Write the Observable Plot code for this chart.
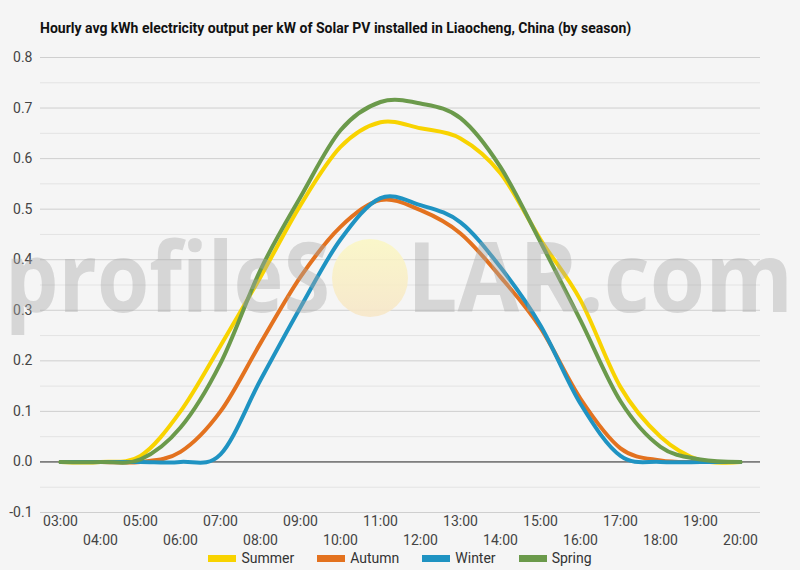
<!DOCTYPE html>
<html><head><meta charset="utf-8">
<script src="https://cdn.jsdelivr.net/npm/d3@7"></script>
<script src="https://cdn.jsdelivr.net/npm/@observablehq/plot@0.6"></script>
<style>
body{margin:0;background:#f5f5f5;font-family:Roboto,sans-serif;width:800px;height:570px;overflow:hidden}
#title{padding:20px 0 0 40px;height:16px;line-height:16px;font-size:14px;font-weight:bold;color:#111}
#chart svg{display:block}
#legend{display:flex;justify-content:center;gap:23px;height:14px;line-height:14px;align-items:center;font-size:14px;color:#333}
.item{display:flex;align-items:center;gap:5px}
.sw{width:28px;height:7px}
</style></head><body>
<div id="title">Hourly avg kWh electricity output per kW of Solar PV installed in Liaocheng, China (by season)</div>
<div id="chart"></div>
<div id="legend"></div>
<script>
const hours = [3,4,5,6,7,8,9,10,11,12,13,14,15,16,17,18,19,20];
const hourLabels = hours.map(h => String(h).padStart(2,"0") + ":00");
const seasons = ["Summer","Autumn","Winter","Spring"];
const colors = ["#f8d300","#e3721f","#1f93c2","#6b9a4b"];
const summer = [0,0,0.012,0.1,0.23,0.366,0.508,0.623,0.672,0.66,0.64,0.571,0.44,0.32,0.148,0.05,0.003,0];
const autumn = [0,0,0,0.02,0.10,0.235,0.366,0.465,0.518,0.498,0.452,0.366,0.265,0.125,0.027,0.003,0,0];
const winter = [0,0,0,0,0.015,0.162,0.306,0.44,0.522,0.508,0.474,0.385,0.27,0.115,0.012,0,0,0];
const spring = [0,0,0.005,0.068,0.195,0.38,0.524,0.656,0.712,0.709,0.68,0.583,0.435,0.28,0.12,0.03,0.005,0];
const yTicks = [-0.1,0,0.1,0.2,0.3,0.4,0.5,0.6,0.7,0.8];
const yMinor = [-0.05,0.05,0.15,0.25,0.35,0.45,0.55,0.65,0.75];

const series = [summer, autumn, winter, spring];
const data = seasons.flatMap((s,i) => hours.map((h,j) => ({season:s, hour:h, value:series[i][j]})));
const fmt = h => hourLabels[hours.indexOf(h)];
const oddHours = hours.filter((h,i) => i % 2 === 0);
const evenHours = hours.filter((h,i) => i % 2 === 1);

const plot = Plot.plot({
  width:800, height:515, marginLeft:40, marginRight:40, marginTop:21, marginBottom:39,
  style:{background:"transparent", fontFamily:"Roboto, sans-serif", fontSize:"14px", color:"#444"},
  x:{domain:[2.5,20.5]},
  y:{domain:[-0.1,0.8]},
  color:{domain:seasons, range:colors},
  marks:[
    Plot.ruleY(yMinor, {stroke:"#e3e3e3"}),
    Plot.ruleY(yTicks.filter(d => d !== 0), {stroke:"#cfcfcf"}),
    Plot.ruleY([0], {stroke:"#222"}),
    Plot.axisY(yTicks, {tickSize:0, tickPadding:8, tickFormat:d => d.toFixed(1), label:null, fontSize:14}),
    Plot.axisX(oddHours, {tickSize:0, tickPadding:4, tickFormat:fmt, label:null, fontSize:14}),
    Plot.axisX(evenHours, {tickSize:0, tickPadding:23, tickFormat:fmt, label:null, fontSize:14}),
    Plot.line(data, {x:"hour", y:"value", stroke:"season", strokeWidth:4, curve:"cardinal"})
  ]
});
document.getElementById("chart").appendChild(plot);

// watermark
const svg = d3.select(plot);
const defs = svg.append("defs");
const grad = defs.append("linearGradient").attr("id","sunGrad").attr("x1",0).attr("y1",0).attr("x2",0).attr("y2",1);
grad.append("stop").attr("offset","0%").attr("stop-color","#fbf7c2");
grad.append("stop").attr("offset","100%").attr("stop-color","#f7e6c6");
const wm = svg.append("g").attr("pointer-events","none").attr("text-anchor","start");
wm.append("text").attr("x",5).attr("y",276).attr("textLength",325).attr("lengthAdjust","spacingAndGlyphs")
  .attr("text-anchor","start").attr("font-size",96).attr("font-family","Open Sans").attr("font-weight",700)
  .attr("fill","#a8a8a8").attr("fill-opacity",0.4).text("profileS");
wm.append("ellipse").attr("cx",370).attr("cy",242).attr("rx",38).attr("ry",39)
  .attr("fill","url(#sunGrad)").attr("fill-opacity",0.85);
wm.append("text").attr("x",407).attr("y",276).attr("textLength",386).attr("lengthAdjust","spacingAndGlyphs")
  .attr("text-anchor","start").attr("font-size",96).attr("font-family","Open Sans").attr("font-weight",700)
  .attr("fill","#a8a8a8").attr("fill-opacity",0.4).text("LAR.com");

// legend
const legend = document.getElementById("legend");
seasons.forEach((s,i) => {
  const item = document.createElement("div");
  item.className = "item";
  const sw = document.createElement("span");
  sw.className = "sw";
  sw.style.background = colors[i];
  const t = document.createElement("span");
  t.textContent = s;
  item.appendChild(sw); item.appendChild(t);
  legend.appendChild(item);
});
</script>
</body></html>
